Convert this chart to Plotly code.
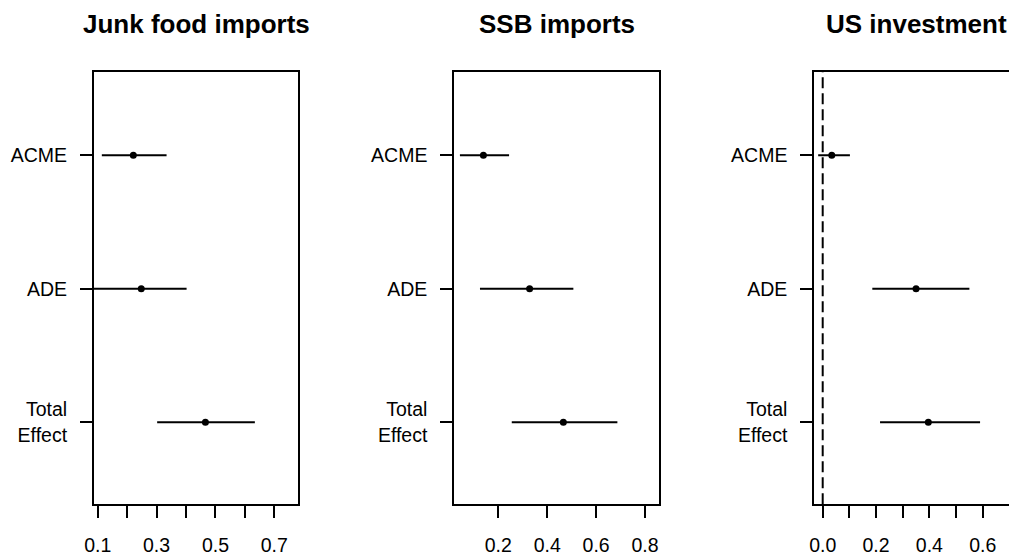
import plotly.graph_objects as go

# ---- data ----
categories = ["ACME", "ADE", "Total Effect"]
titles = ["Junk food imports", "SSB imports", "US investment"]

junk_est = [0.221, 0.248, 0.466]
junk_lo = [0.114, 0.080, 0.302]
junk_hi = [0.334, 0.402, 0.634]

ssb_est = [0.139, 0.328, 0.466]
ssb_lo = [0.043, 0.125, 0.255]
ssb_hi = [0.244, 0.507, 0.687]

us_est = [0.034, 0.350, 0.396]
us_lo = [-0.017, 0.186, 0.215]
us_hi = [0.102, 0.550, 0.590]

x_ranges = [[0.0874, 0.7816], [0.020, 0.856], [-0.0315, 0.6985]]
x_tick0 = [0.1, 0.2, 0.0]
x_minor = [0.1, None, 0.1]

W, H = 1009, 556
x_domains = [[94 / W, 298.3 / W], [454.3 / W, 658.7 / W], [814.3 / W, 1.0]]
y_domain = [1 - 504.3 / H, 1 - 71.7 / H]

FONT = "Liberation Sans, Arial, sans-serif"

fig = go.Figure()
series = [(junk_est, junk_lo, junk_hi), (ssb_est, ssb_lo, ssb_hi), (us_est, us_lo, us_hi)]

for i, (est, lo, hi) in enumerate(series):
    n = "" if i == 0 else str(i + 1)
    fig.add_trace(go.Scatter(
        x=est, y=categories, mode="markers",
        marker=dict(color="black", size=7, symbol="circle"),
        error_x=dict(type="data", symmetric=False,
                     array=[h - e for h, e in zip(hi, est)],
                     arrayminus=[e - l for e, l in zip(est, lo)],
                     color="black", thickness=2, width=0),
        xaxis="x" + n, yaxis="y" + n, showlegend=False, hoverinfo="skip",
    ))

    xa = dict(domain=x_domains[i], range=x_ranges[i], anchor="y" + n,
              automargin=False,
              showgrid=False, zeroline=False, showline=True, linecolor="black",
              linewidth=2, mirror=True, ticks="outside", ticklen=12, tickwidth=2,
              tickcolor="black", tick0=x_tick0[i], dtick=0.2, tickformat=".1f",
              ticklabelstandoff=10,
              tickfont=dict(family=FONT, size=19.5, color="black"))
    if x_minor[i] is not None:
        xa["minor"] = dict(ticks="outside", ticklen=12, tickwidth=2,
                           tickcolor="black", dtick=x_minor[i], tick0=x_tick0[i],
                           showgrid=False)
    ya = dict(domain=y_domain, range=[-0.614, 2.626], anchor="x" + n,
              automargin=False,
              type="category", categoryorder="array",
              categoryarray=categories[::-1],
              tickmode="array", tickvals=categories,
              ticktext=[c.replace(" ", "<br>") for c in categories],
              showgrid=False, zeroline=False, showline=True, linecolor="black",
              linewidth=2, mirror=(i < 2), ticks="outside", ticklen=12,
              tickwidth=2, tickcolor="black", ticklabelstandoff=9,
              tickfont=dict(family=FONT, size=19.5, color="black"))
    fig.update_layout({"xaxis" + n: xa, "yaxis" + n: ya})

    fig.add_annotation(text="<b>" + titles[i] + "</b>", xref="paper", yref="paper",
                       x=(x_domains[i][0] + x_domains[i][0] + 204.4 / W) / 2,
                       y=1 - 24 / H, xanchor="center", yanchor="middle",
                       showarrow=False, font=dict(family=FONT, size=26, color="black"))

# dashed zero reference line in the third panel
fig.add_shape(type="line", xref="x3", yref="y3 domain", x0=0, x1=0, y0=0, y1=1,
              line=dict(color="black", width=2, dash="11px,5px"))

fig.update_layout(template="none", width=W, height=H,
                  margin=dict(l=0, r=0, t=0, b=0, pad=0, autoexpand=False),
                  paper_bgcolor="white", plot_bgcolor="white",
                  font=dict(family=FONT, color="black"))

fig.write_html("out.html", config={"displayModeBar": False},
               post_script="document.body.style.margin='0';"
                           "document.body.style.overflow='hidden';")
